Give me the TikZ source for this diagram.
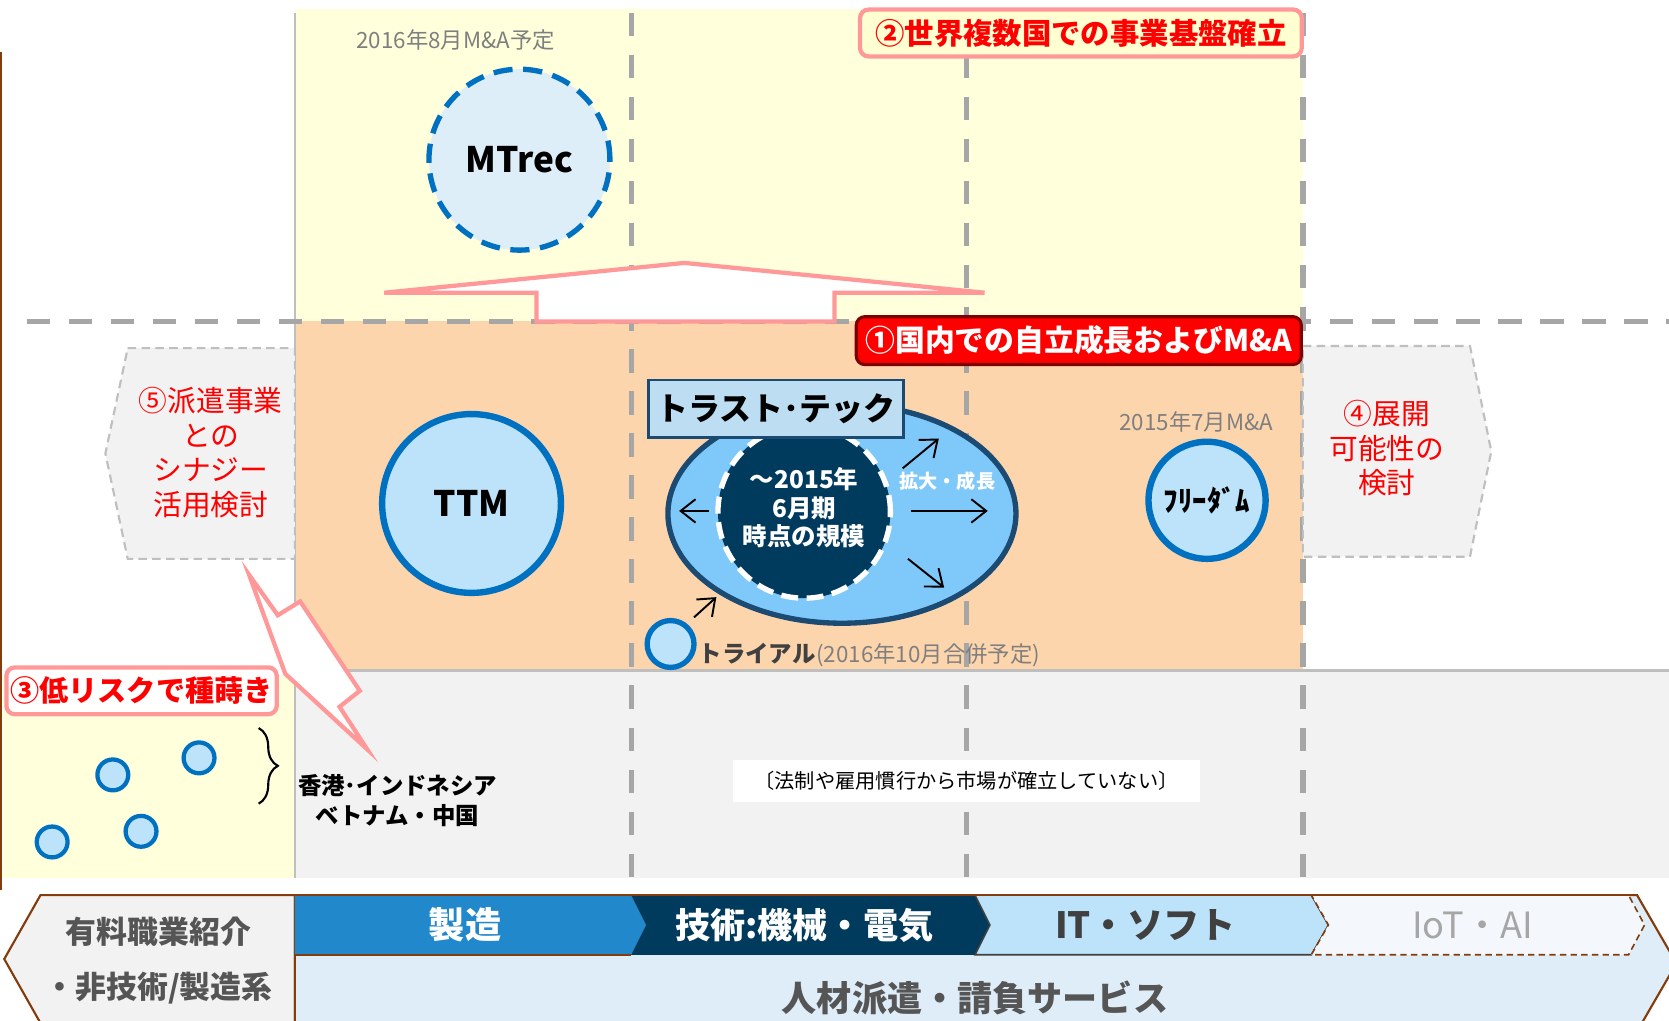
\documentclass[tikz,border=0pt]{standalone}
\usepackage{fontspec}
\setmainfont{Noto Sans CJK JP}
\usetikzlibrary{arrows.meta,decorations.pathreplacing,shapes.geometric}
\definecolor{yel}{HTML}{FFFFDB}
\definecolor{org}{HTML}{FDD5AD}
\definecolor{gry}{HTML}{F2F2F2}
\definecolor{lgray}{HTML}{BFBFBF}
\definecolor{dgray}{HTML}{A6A6A6}
\definecolor{brn}{HTML}{843C0C}
\definecolor{cPink}{HTML}{FF9999}
\definecolor{cBlue}{HTML}{0070C0}
\definecolor{cLtBlue}{HTML}{BDE3FB}
\definecolor{cPaleBlue}{HTML}{DEEEF9}
\definecolor{cSky}{HTML}{7FC9FA}
\definecolor{cNavyLine}{HTML}{1B4A72}
\definecolor{cNavy}{HTML}{003A5D}
\definecolor{cLabel}{HTML}{BDDEF2}
\definecolor{cMfg}{HTML}{2188CC}
\definecolor{cBanner}{HTML}{DFEDF8}
\definecolor{cIoT}{HTML}{F4F8FC}
\definecolor{cTxtGray}{HTML}{7F7F7F}
\definecolor{cDark}{HTML}{404040}
\definecolor{cDark2}{HTML}{555555}
\definecolor{cRedBorder}{HTML}{7F0000}
\definecolor{cBoxYel}{HTML}{FFFFD2}
\newcommand\myfs[2]{\fontsize{#1}{#2}\selectfont}
\begin{document}
\begin{tikzpicture}[x=0.5pt,y=-0.5pt,
  vdash/.style={draw=dgray,line width=2.5pt,dash pattern=on 11pt off 8.75pt},
  bluecirc/.style={circle,draw=cBlue,fill=cLtBlue,inner sep=0pt},
  pinkline/.style={draw=cPink,line width=2pt,fill=white,line join=miter},
  chev/.style={draw=lgray,fill=gry,line width=1pt,dash pattern=on 4pt off 2.5pt},
  thinarrow/.style={-{Straight Barb[length=7pt,width=11pt]},line width=0.9pt},
  txt/.style={inner sep=0pt,anchor=center}]
\clip (0,0) rectangle (1568,958.3);
\fill[white] (0,0) rectangle (1568,958.3);
% regions
\fill[yel] (277,8) rectangle (1224,302);
\fill[org] (277,302) rectangle (1224,630);
\fill[gry] (277,630) rectangle (1568,825);
\fill[yel] (3,635) rectangle (277,825);
\draw[brn,line width=1pt] (1,49) -- (1,836);
% grid lines
\draw[lgray,line width=1.25pt] (277,12) -- (277,825);
\draw[lgray,line width=1.5pt] (277,630) -- (1568,630);
\draw[vdash] (593,12) -- (593,825);
\draw[vdash] (908,12) -- (908,825);
\draw[vdash] (1224,12) -- (1224,825);
\draw[vdash] (25,302) -- (1568,302);
% big up arrow
\draw[pinkline] (361,275) -- (643,247) -- (925,275) -- (784,275) -- (784,302) -- (504,302) -- (504,275) -- cycle;
% top region
\node[txt,font=\myfs{10.5}{12},text=cTxtGray] (t2016) at (428,38) {2016年8月M\&A予定};
\node[bluecirc,fill=cPaleBlue,line width=2.5pt,dash pattern=on 9pt off 5pt,minimum size=85pt,font=\bfseries\myfs{16.5}{18}] (mtrec) at (488,150) {MTrec};
% side chevrons
\draw[chev] (120,327) -- (277,327) -- (277,525) -- (120,525) -- (99,426) -- cycle;
\node[txt,align=center,text=red,font=\myfs{13.5}{16.2}] (t5) at (198,425) {⑤派遣事業\\との\\シナジー\\活用検討};
\draw[chev] (1224,325) -- (1381,325) -- (1401,424) -- (1381,523) -- (1224,523) -- cycle;
\node[txt,align=center,text=red,font=\myfs{13.5}{16.2}] (t4) at (1303,421) {④展開\\可能性の\\検討};
% lightning arrow
\draw[pinkline] (234,540) -- (261,578) -- (282,565) -- (338,649) -- (319,664) -- (345,704) -- (268,633) -- cycle;
% middle region
\node[bluecirc,line width=3pt,minimum size=84pt,font=\bfseries\myfs{16.5}{18}] (ttm) at (443,473) {TTM};
\node[ellipse,draw=cNavyLine,fill=cSky,line width=2.5pt,minimum width=163.5pt,minimum height=103pt,inner sep=0pt] (tt) at (791,482.5) {};
\node[circle,draw=white,fill=cNavy,line width=2.5pt,dash pattern=on 8pt off 4pt,minimum size=81pt,inner sep=0pt] (core) at (755.5,481) {};
\node[txt,align=center,text=white,font=\bfseries\myfs{11.5}{13.5}] (coretxt) at (755.5,477) {～2015年\\6月期\\時点の規模};
\node[draw=cNavyLine,fill=cLabel,line width=1.25pt,minimum width=120pt,minimum height=27pt,inner sep=0pt,font=\bfseries\myfs{15}{17}] (ttlabel) at (729,384) {トラスト･テック};
\node[txt,text=white,font=\bfseries\myfs{9}{10}] (grow) at (890,452) {拡大・成長};
\coordinate (aL0) at (666,480); \coordinate (aL1) at (638,480);
\coordinate (aR0) at (856,480); \coordinate (aR1) at (928,480);
\coordinate (aU0) at (848,440); \coordinate (aU1) at (882,412);
\coordinate (aD0) at (853,525); \coordinate (aD1) at (887,552);
\coordinate (aT0) at (652,580); \coordinate (aT1) at (673,561);
\draw[thinarrow] (aL0) -- (aL1);
\draw[thinarrow] (aR0) -- (aR1);
\draw[thinarrow] (aU0) -- (aU1);
\draw[thinarrow] (aD0) -- (aD1);
\draw[thinarrow] (aT0) -- (aT1);
\node[bluecirc,line width=3pt,minimum size=55pt,font=\bfseries\myfs{13.5}{15}] (frd) at (1134,470) {ﾌﾘｰﾀﾞﾑ};
\node[txt,font=\myfs{10.5}{12},text=cTxtGray] (t2015) at (1124,396) {2015年7月M\&A};
\node[bluecirc,line width=2.5pt,minimum size=22pt] (trial) at (630,605) {};
\node[inner sep=0pt,anchor=west,text=cDark,font=\bfseries\myfs{11}{12}] (trialtxt) at (656,614) {トライアル};
\node[inner sep=0pt,anchor=base west,text=cTxtGray,font=\myfs{10.5}{12}] (trialnote) at (trialtxt.base east) {(2016年10月合併予定)};
% boxes
\node[draw=cPink,fill=cBoxYel,line width=2pt,rounded corners=4pt,minimum width=207.5pt,minimum height=22pt,inner sep=0pt,text=red,font=\bfseries\myfs{13.8}{15}] (b2) at (1015.5,31) {②世界複数国での事業基盤確立};
\node[draw=cRedBorder,fill=red,line width=1.5pt,rounded corners=4pt,minimum width=209pt,minimum height=22.5pt,inner sep=0pt,text=white,font=\bfseries\myfs{14}{15}] (b1) at (1013.5,320) {①国内での自立成長およびM\&A};
\node[draw=cPink,fill=white,line width=2pt,rounded corners=4pt,minimum width=127pt,minimum height=22pt,inner sep=0pt,text=red,font=\bfseries\myfs{13.7}{15}] (b3) at (133,649) {③低リスクで種蒔き};
% small circles
\node[bluecirc,line width=2pt,minimum size=14.5pt] (s1) at (106,728) {};
\node[bluecirc,line width=2pt,minimum size=14.5pt] (s2) at (187,712) {};
\node[bluecirc,line width=2pt,minimum size=14.5pt] (s3) at (49,791) {};
\node[bluecirc,line width=2pt,minimum size=14.5pt] (s4) at (132.5,781) {};
\coordinate (brT) at (243,684); \coordinate (brB) at (243,755);
\draw[decorate,decoration={brace,amplitude=9pt},line width=1pt] (brT) -- (brB);
\node[txt,align=center,font=\bfseries\myfs{11}{14}] (asia) at (373.5,752) {香港･インドネシア\\ベトナム・中国};
\node[fill=white,minimum width=219pt,minimum height=19.5pt,inner sep=0pt,font=\myfs{9.5}{11}] (note) at (908,733.5) {〔法制や雇用慣行から市場が確立していない〕};
% banner
\draw[brn,fill=gry,line width=1pt] (38,841) -- (277,841) -- (277,1000) -- (60,1000) -- (4,901) -- cycle;
\draw[brn,fill=cBanner,line width=1pt] (277,841) -- (1538,841) -- (1575,905) -- (1520,1000) -- (277,1000) -- cycle;
\fill[cMfg] (277,841) -- (593,841) -- (607,869) -- (593,897) -- (277,897) -- cycle;
\fill[cNavy] (593,841) -- (916,841) -- (930,869) -- (916,897) -- (593,897) -- (607,869) -- cycle;
\draw[cDark,fill=cLtBlue,line width=0.75pt] (916,841) -- (1232,841) -- (1248,869) -- (1232,897) -- (916,897) -- (930,869) -- cycle;
\draw[brn,fill=cIoT,line width=0.75pt,dash pattern=on 3pt off 2pt] (1232,841) -- (1530,841) -- (1545,869) -- (1530,897) -- (1232,897) -- (1248,869) -- cycle;
\draw[brn,line width=1pt] (277,841) -- (1538,841);
\draw[brn,line width=0.75pt] (277,897) -- (593,897);
\node[txt,text=white,font=\bfseries\myfs{17}{19}] (mfg) at (437,869) {製造};
\node[txt,text=white,font=\bfseries\myfs{16.5}{18}] (tech) at (755.5,869) {技術:機械・電気};
\node[txt,text=cDark,font=\bfseries\myfs{17}{19}] (it) at (1076,869) {IT・ソフト};
\node[txt,text=dgray,font=\myfs{17}{19}] (iot) at (1383.5,869) {IoT・AI};
\node[txt,text=cDark2,font=\bfseries\myfs{16.5}{18}] (haken) at (916,938) {人材派遣・請負サービス};
\node[txt,text=cDark2,align=center,font=\bfseries\myfs{14.5}{25.5}] (yuryo) at (149,902.5) {有料職業紹介\\・非技術/製造系};
\end{tikzpicture}
\end{document}
